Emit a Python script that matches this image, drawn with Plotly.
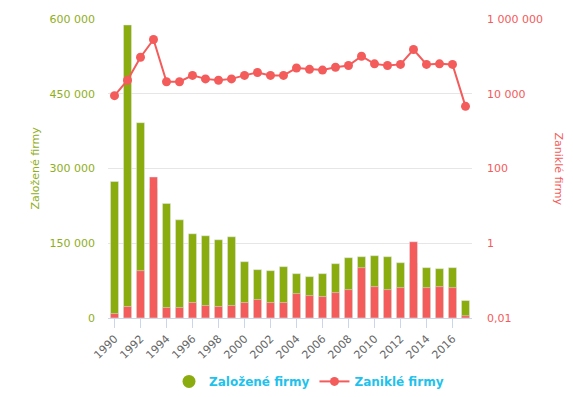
import plotly.graph_objects as go

years = list(range(1990, 2018))
zalozene = [274000, 588000, 392000, 260000, 230000, 197000, 169000, 165000, 157000, 163000,
            113000, 97000, 95000, 103000, 89000, 83000, 89000, 109000, 121000, 123000,
            125000, 123000, 111000, 110000, 101000, 99000, 101000, 35000]
zanikle = [8900, 23000, 95000, 283000, 21000, 21000, 31000, 25000, 23000, 25000,
           31000, 37000, 31000, 31000, 49000, 45000, 43000, 51000, 57000, 101000,
           63000, 57000, 61000, 153000, 61000, 63000, 61000, 4600]

left_ticks = [0, 150000, 300000, 450000, 600000]
right_ticks = [0.01, 1, 100, 10000, 1000000]
right_labels = ["0,01", "1", "100", "10 000", "1 000 000"]
x_ticks = list(range(1990, 2018, 2))

GREEN = "#8aac0e"
RED = "#f45b5b"
LEG = "#1ec2ec"
FONT = "DejaVu Sans"

# page body has an 8px default margin; work in figure coordinates
OFF = 8
W, H = 573 - OFF, 397 - OFF
L = 108 - OFF
T = 19 - OFF
R = W - (472 - OFF)
B = H - (318.5 - OFF)
pw = W - L - R
ph = H - T - B


def px_x(x):
    return (x - OFF - L) / pw


def px_y(y):
    return (H - B - (y - OFF)) / ph


fig = go.Figure()
fig.add_trace(go.Bar(x=years, y=zalozene, name="Založené firmy", marker_color=GREEN,
                     width=0.62, showlegend=False, yaxis="y"))
fig.add_trace(go.Bar(x=years, y=zanikle, name="Zaniklé firmy", marker_color=RED,
                     width=0.62, showlegend=False, yaxis="y"))
fig.add_trace(go.Scatter(x=[None], y=[None], mode="markers", name="Založené firmy",
                         marker=dict(color=GREEN, size=13, symbol="circle")))
fig.add_trace(go.Scatter(x=years, y=zanikle, name="Zaniklé firmy", mode="lines+markers",
                         line=dict(color=RED, width=2), marker=dict(color=RED, size=9),
                         yaxis="y2"))

fig.update_layout(
    width=W, height=H,
    margin=dict(l=L, r=R, t=T, b=B, autoexpand=False),
    paper_bgcolor="white", plot_bgcolor="white",
    barmode="overlay",
    separators=", ",
    font=dict(family=FONT, size=11, color="#666666"),
    xaxis=dict(range=[1989.5, 2017.5], tickvals=x_ticks, tickangle=-45,
               showgrid=False, showline=True, linecolor="#ccd6eb", linewidth=1,
               ticks="outside", ticklen=9, tickcolor="#ccd6eb", automargin=False,
               tickfont=dict(size=11, color="#666666"), zeroline=False),
    yaxis=dict(range=[0, 600000], tickvals=left_ticks, tickformat=",d", automargin=False,
               showgrid=True, gridcolor="#e6e6e6", zeroline=False,
               tickfont=dict(size=11, color="#8fae1b"), ticklabelstandoff=12),
    yaxis2=dict(type="log", range=[-2, 6], tickvals=right_ticks, ticktext=right_labels,
                overlaying="y", side="right", showgrid=False, zeroline=False, automargin=False,
                tickfont=dict(size=11, color=RED), ticklabelstandoff=14),
    legend=dict(orientation="h", x=px_x(309), xanchor="center", y=px_y(382),
                yanchor="middle",
                font=dict(family=FONT, size=12, color=LEG, weight="bold"),
                itemwidth=30),
    annotations=[
        dict(text="Založené firmy", x=px_x(35), y=0.5, xref="paper", yref="paper",
             xanchor="center", yanchor="middle",
             textangle=-90, showarrow=False, font=dict(size=11, color="#8fae1b")),
        dict(text="Zaniklé firmy", x=px_x(558), y=0.5, xref="paper", yref="paper",
             xanchor="center", yanchor="middle",
             textangle=90, showarrow=False, font=dict(size=11, color=RED)),
    ],
)

fig.write_html("out.html")
